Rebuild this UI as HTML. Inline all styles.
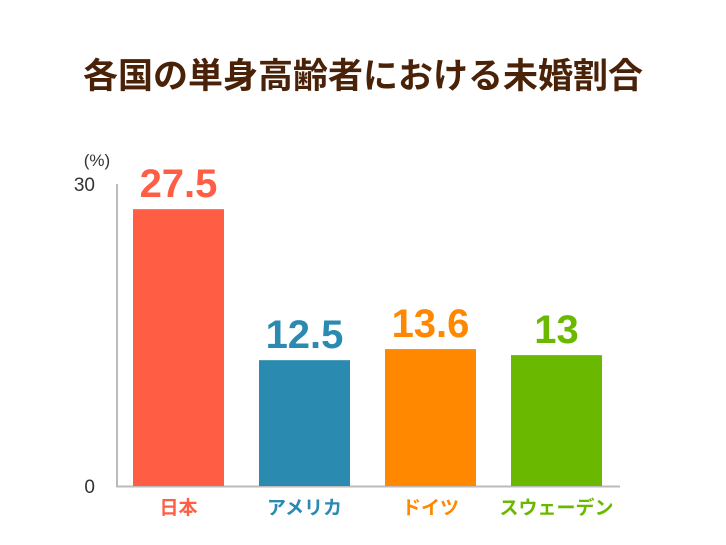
<!DOCTYPE html>
<html><head><meta charset="utf-8"><style>
body{margin:0;background:#fff;}
svg{display:block;font-family:"Liberation Sans","Noto Sans CJK JP",sans-serif;}
</style></head><body>
<svg id="c" width="726" height="545">
<text x="363" y="88" text-anchor="middle" font-size="35" font-weight="bold" fill="#4a2208">各国の単身高齢者における未婚割合</text>
<text x="97" y="166" text-anchor="middle" font-size="17" fill="#333">(%)</text>
<line x1="117" y1="184" x2="117" y2="487" stroke="#bbb" stroke-width="2"/>
<line x1="116" y1="486.5" x2="620" y2="486.5" stroke="#bbb" stroke-width="2"/>
<g id="bars"></g>
</svg>
<script>
const categories=["日本","アメリカ","ドイツ","スウェーデン"];
const values=[27.5,12.5,13.6,13];
const valueLabels=["27.5","12.5","13.6","13"];
const yTicks=[0,30];
const colors=["#ff5e45","#2b8ab0","#ff8800","#6bb800"];
const svg=document.getElementById('c'),g=document.getElementById('bars');
const NS="http://www.w3.org/2000/svg";
const y=v=>486-v*(302/30);
const x=i=>133+i*126;
const bw=91;
function mk(t,a){const e=document.createElementNS(NS,t);for(const k in a)e.setAttribute(k,a[k]);return e;}
yTicks.forEach(t=>{const e=mk('text',{x:95,y:y(t)+7,'text-anchor':'end','font-size':19,fill:'#333'});e.textContent=t;


svg.appendChild(e);});
values.forEach((v,i)=>{
const r=mk('rect',{x:x(i),y:y(v),width:bw,height:486-y(v),fill:colors[i]});


g.appendChild(r);
const t=mk('text',{x:x(i)+bw/2,y:y(v)-12,'text-anchor':'middle','font-size':40,'font-weight':'bold',fill:colors[i]});t.textContent=valueLabels[i];


g.appendChild(t);
const c=mk('text',{x:x(i)+bw/2,y:514,'text-anchor':'middle','font-size':19,'font-weight':'bold',fill:colors[i]});c.textContent=categories[i];


g.appendChild(c);
});
</script>
</body></html>
